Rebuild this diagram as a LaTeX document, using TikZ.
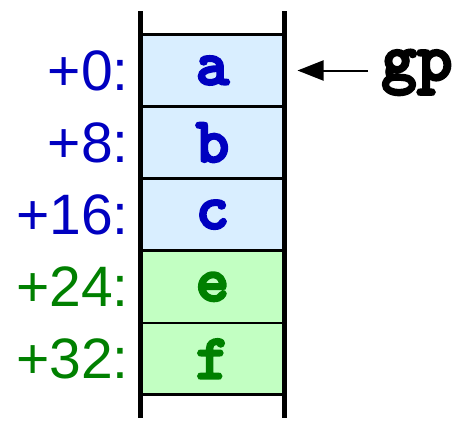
\documentclass[tikz,border=0pt]{standalone}
\usepackage{fontspec}
\setmainfont{Liberation Sans}
\newfontfamily\codefont{lmmonolt10-bold.otf}[FakeBold=3.5]
\usetikzlibrary{arrows.meta}
\definecolor{lblue}{RGB}{0,0,192}
\definecolor{lgreen}{RGB}{0,128,0}
\definecolor{fblue}{RGB}{217,238,255}
\definecolor{fgreen}{RGB}{194,255,194}
\tikzset{
  x=1pt, y=-1pt,
  cell/.style={draw=black, line width=2.3pt, minimum width=142pt, minimum height=72pt,
    inner sep=0pt, outer sep=0pt, font=\codefont\fontsize{64}{64}\selectfont},
  bluecell/.style={cell, fill=fblue, text=lblue},
  greencell/.style={cell, fill=fgreen, text=lgreen},
  offs/.style={anchor=east, inner sep=0pt, font=\fontsize{57}{57}\selectfont},
  wall/.style={line width=4.3pt},
  ptr/.style={line width=2pt, -{Stealth[length=26pt, width=20pt, inset=0pt]}}
}
\begin{document}
\begin{tikzpicture}
\useasboundingbox (0,0) rectangle (467,423);
\node[bluecell] (ca) at (212.5,70.5) {a};
\node[bluecell] (cb) at (212.5,142.6) {b};
\node[bluecell] (cc) at (212.5,214.6) {c};
\node[greencell] (ce) at (212.5,286.8) {e};
\node[greencell] (cf) at (212.5,358.8) {f};
\draw[line width=2.3pt] (140.5,34.5) -- (284.5,34.5);
\draw[line width=2.3pt] (140.5,394.5) -- (284.5,394.5);
\coordinate (wlt) at (140.5,11);
\coordinate (wlb) at (140.5,418);
\coordinate (wrt) at (284.5,11);
\coordinate (wrb) at (284.5,418);
\draw[wall] (wlt) -- (wlb);
\draw[wall] (wrt) -- (wrb);
\node[offs, text=lblue] (o0) at (129,70.5) {+0:};
\node[offs, text=lblue] (o8) at (129,142.6) {+8:};
\node[offs, text=lblue] (o16) at (129,214.6) {+16:};
\node[offs, text=lgreen] (o24) at (129,286.8) {+24:};
\node[offs, text=lgreen] (o32) at (129,358.8) {+32:};
\node[anchor=base west, inner sep=0pt, font=\codefont\fontsize{68}{68}\selectfont] (gp) at (381,80) {gp};
\coordinate (tip) at (297.5,70.5);
\draw[ptr] (368,70.5) -- (tip);
\end{tikzpicture}
\end{document}
